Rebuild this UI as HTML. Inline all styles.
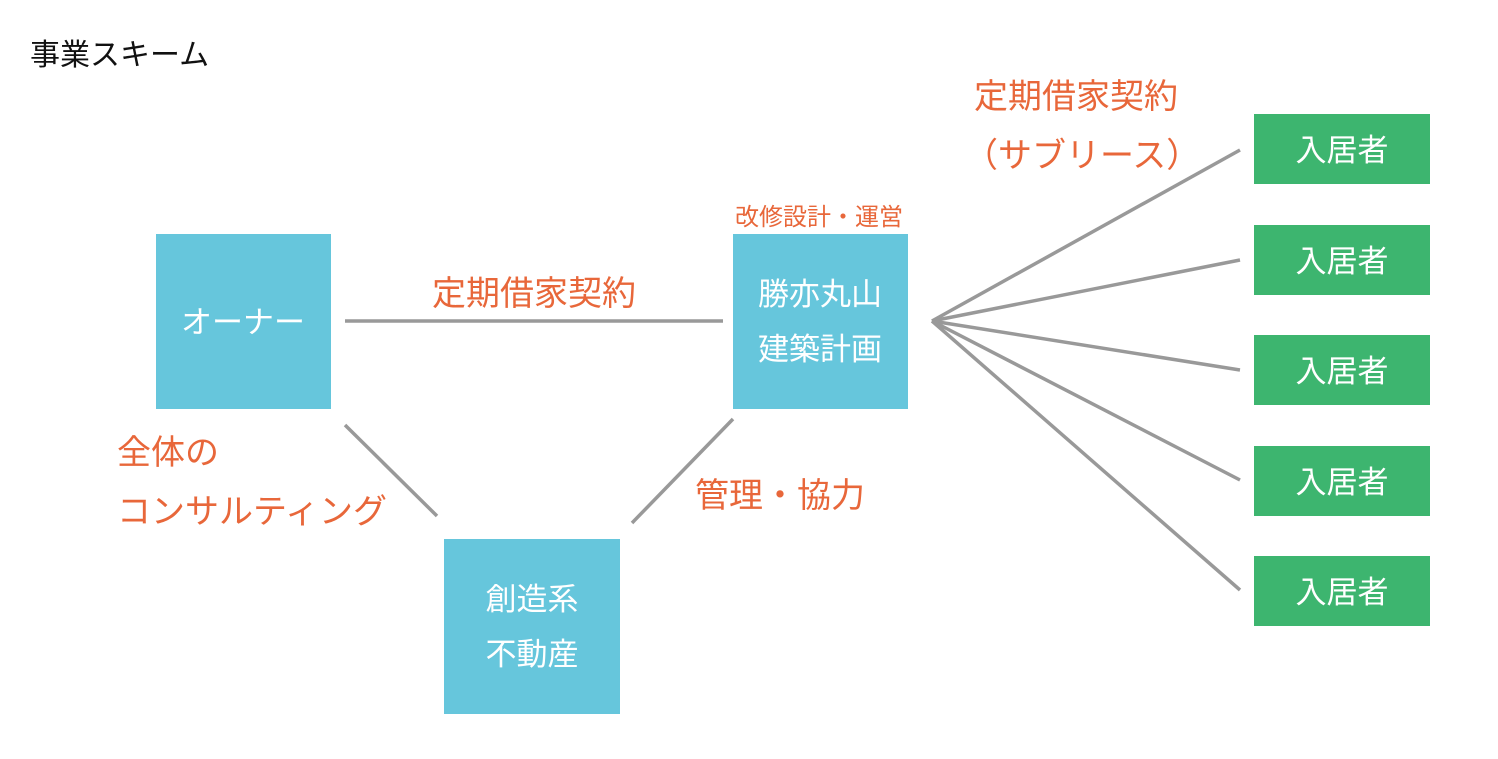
<!DOCTYPE html>
<html><head><meta charset="utf-8"><style>
html,body{margin:0;padding:0;background:#fff;}
svg{display:block;}
text{font-family:"Liberation Sans","Noto Sans CJK JP",sans-serif;}
</style></head><body>
<svg width="1498" height="759" viewBox="0 0 1498 759" xmlns="http://www.w3.org/2000/svg">
<rect width="1498" height="759" fill="#fff"/>
<text x="30" y="65" font-size="30" fill="#111">事業スキーム</text>
<g stroke="#999" stroke-width="3.5" fill="none">
<line x1="345" y1="321" x2="723" y2="321"/>
<line x1="345" y1="425" x2="437" y2="516"/>
<line x1="733" y1="419" x2="632" y2="523"/>
<line x1="932" y1="321" x2="1240" y2="150"/>
<line x1="932" y1="321" x2="1240" y2="260"/>
<line x1="932" y1="321" x2="1240" y2="370"/>
<line x1="932" y1="321" x2="1240" y2="480"/>
<line x1="932" y1="321" x2="1240" y2="590"/>
</g>
<g fill="#66C6DC">
<rect x="156" y="234" width="175" height="175"/>
<rect x="733" y="234" width="175" height="175"/>
<rect x="444" y="539" width="176" height="175"/>
</g>
<g fill="#3DB56F">
<rect x="1254" y="114" width="176" height="70"/>
<rect x="1254" y="225" width="176" height="70"/>
<rect x="1254" y="335" width="176" height="70"/>
<rect x="1254" y="446" width="176" height="70"/>
<rect x="1254" y="556" width="176" height="70"/>
</g>
<g fill="#fff" font-size="31" text-anchor="middle">
<text x="243" y="333">オーナー</text>
<text x="820" y="305">勝亦丸山</text>
<text x="820" y="360">建築計画</text>
<text x="532" y="610">創造系</text>
<text x="532" y="665">不動産</text>
<text x="1342" y="161">入居者</text>
<text x="1342" y="272">入居者</text>
<text x="1342" y="382">入居者</text>
<text x="1342" y="493">入居者</text>
<text x="1342" y="603">入居者</text>
</g>
<g fill="#E8673A">
<text x="432" y="305" font-size="34">定期借家契約</text>
<text x="735" y="225" font-size="24">改修設計・運営</text>
<text x="117" y="464" font-size="34">全体の</text>
<text x="117" y="523" font-size="34">コンサルティング</text>
<text x="695" y="507" font-size="34">管理・協力</text>
<text x="974" y="108" font-size="34">定期借家契約</text>
<text x="964" y="167" font-size="34">（サブリース）</text>
</g>
</svg>
</body></html>
